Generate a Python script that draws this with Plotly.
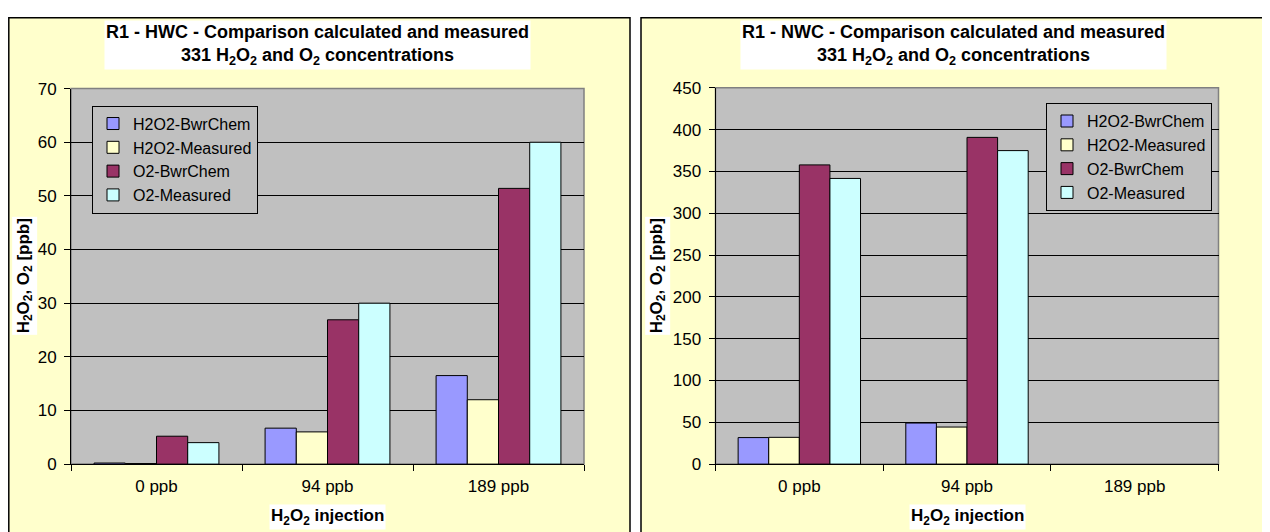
import plotly.graph_objects as go

categories = ["0 ppb", "94 ppb", "189 ppb"]
series_names = ["H2O2-BwrChem", "H2O2-Measured", "O2-BwrChem", "O2-Measured"]
colors = ["#9999FF", "#FFFFCC", "#993366", "#CCFFFF"]

hwc_h2o2_bwrchem = [0.2, 6.7, 16.5]
hwc_h2o2_measured = [0.1, 6.0, 12.0]
hwc_o2_bwrchem = [5.2, 26.9, 51.4]
hwc_o2_measured = [4.0, 30.0, 60.0]

nwc_h2o2_bwrchem = [31.7, 49.1, None]
nwc_h2o2_measured = [32.0, 44.3, None]
nwc_o2_bwrchem = [357.8, 390.7, None]
nwc_o2_measured = [341.6, 374.9, None]

W, H = 1270, 532
FONT = "Liberation Sans, Arial, sans-serif"
FS = 17

# map target screen pixel positions to figure paper fractions
def px(x):
    return max(0.0, (x - 8)) / W

def py(y):
    return 1 - ((y - 17) / 0.963) / H

fig = go.Figure()

hwc = [hwc_h2o2_bwrchem, hwc_h2o2_measured, hwc_o2_bwrchem, hwc_o2_measured]
nwc = [nwc_h2o2_bwrchem, nwc_h2o2_measured, nwc_o2_bwrchem, nwc_o2_measured]

for name, vals, col in zip(series_names, hwc, colors):
    fig.add_trace(go.Bar(x=categories, y=vals, name=name, marker=dict(color=col, line=dict(color="#000000", width=1)),
                         xaxis="x", yaxis="y", legend="legend"))
for name, vals, col in zip(series_names, nwc, colors):
    fig.add_trace(go.Bar(x=categories, y=vals, name=name, marker=dict(color=col, line=dict(color="#000000", width=1)),
                         xaxis="x2", yaxis="y2", legend="legend2"))

axis_common = dict(showline=True, linecolor="#000000", linewidth=1, ticks="outside", ticklen=6,
                   tickcolor="#000000", tickfont=dict(family=FONT, size=FS, color="#000000"))

fig.update_layout(
    width=W, height=H,
    margin=dict(l=0, r=0, t=0, b=0),
    paper_bgcolor="#FFFFFF",
    plot_bgcolor="#C0C0C0",
    barmode="group", bargap=0.27, bargroupgap=0,
    font=dict(family=FONT, color="#000000"),
    xaxis=dict(domain=[px(71), px(584)], anchor="y", tickson="boundaries", ticklabelstandoff=7, **axis_common),
    yaxis=dict(domain=[py(463.5), py(88.5)], anchor="x", range=[0, 70], dtick=10, ticklabelstandoff=4,
               showgrid=True, gridcolor="#000000", gridwidth=1, zeroline=False, **axis_common),
    xaxis2=dict(domain=[px(715.5), px(1218.5)], anchor="y2", tickson="boundaries", ticklabelstandoff=7, **axis_common),
    yaxis2=dict(domain=[py(463.5), py(87.7)], anchor="x2", range=[0, 450], dtick=50, ticklabelstandoff=4,
                showgrid=True, gridcolor="#000000", gridwidth=1, zeroline=False, **axis_common),
    legend=dict(x=px(92), y=py(105.5), xanchor="left", yanchor="top", bgcolor="#C0C0C0",
                bordercolor="#000000", borderwidth=1, font=dict(family=FONT, size=16, color="#000000"),
                tracegroupgap=0, itemwidth=30),
    legend2=dict(x=px(1046), y=py(103), xanchor="left", yanchor="top", bgcolor="#C0C0C0",
                 bordercolor="#000000", borderwidth=1, font=dict(family=FONT, size=16, color="#000000"),
                 tracegroupgap=0, itemwidth=30),
    showlegend=True,
)

# chart boxes
for x0, x1 in [(8.8, 630), (641, 1265)]:
    fig.add_shape(type="rect", xref="paper", yref="paper", x0=px(x0), x1=px(x1), y0=-0.02, y1=1 - 0.8 / H,
                  fillcolor="#FFFFCC", line=dict(color="#000000", width=1.5), layer="below")

# plot areas (gray fill with gray border)
for xr, yr in [("x domain", "y domain"), ("x2 domain", "y2 domain")]:
    fig.add_shape(type="rect", xref=xr, yref=yr, x0=0, x1=1, y0=0, y1=1,
                  line=dict(color="#808080", width=1.5), fillcolor="#C0C0C0", layer="below")

titles = [
    ("R1 - HWC - Comparison calculated and measured", 317.5),
    ("R1 - NWC - Comparison calculated and measured", 953),
]
sub = "331 H<sub>2</sub>O<sub>2</sub> and O<sub>2</sub> concentrations"
for txt, cx in titles:
    fig.add_annotation(text="<b>" + txt + "</b><br><b>" + sub + "</b>", xref="paper", yref="paper",
                       x=px(cx), y=py(45), xanchor="center", yanchor="middle", showarrow=False,
                       font=dict(family=FONT, size=18, color="#000000"), bgcolor="#FFFFFF", borderpad=1)

for cx in [327.5, 967]:
    fig.add_annotation(text="<b>H<sub>2</sub>O<sub>2</sub> injection</b>", xref="paper", yref="paper",
                       x=px(cx), y=py(516), xanchor="center", yanchor="middle", showarrow=False,
                       font=dict(family=FONT, size=FS, color="#000000"), bgcolor="#FFFFFF")

for cx in [24.5, 657.5]:
    fig.add_annotation(text="<b>H<sub>2</sub>O<sub>2</sub>, O<sub>2</sub> [ppb]</b>", xref="paper", yref="paper",
                       x=px(cx), y=py(275.5), xanchor="center", yanchor="middle", showarrow=False, textangle=-90,
                       font=dict(family=FONT, size=FS, color="#000000"), bgcolor="#FFFFFF")

fig.write_html("out.html")
